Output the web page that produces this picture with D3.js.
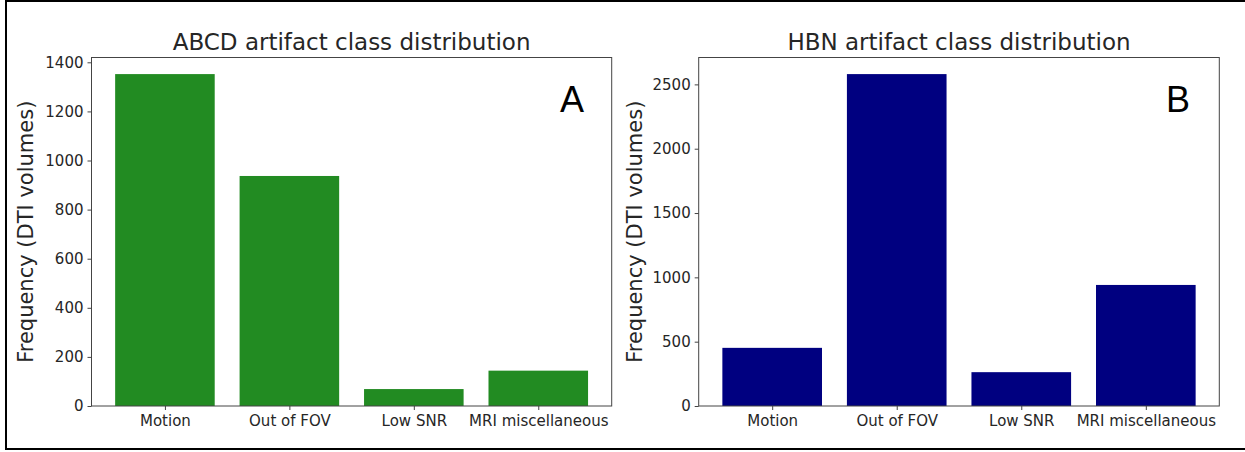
<!DOCTYPE html>
<html>
<head>
<meta charset="utf-8">
<title>Artifact class distribution</title>
<script src="https://d3js.org/d3.v7.min.js"></script>
<style>
  body { margin: 0; background: #fff; }
  svg { display: block; }
</style>
</head>
<body>
<div id="chart"></div>
<script>
// data
var classes = ["Motion", "Out of FOV", "Low SNR", "MRI miscellaneous"];
var abcdCounts = [1352, 937, 69, 144];
var hbnCounts = [452, 2580, 263, 941];
var abcdTicks = [0, 200, 400, 600, 800, 1000, 1200, 1400];
var hbnTicks = [0, 500, 1000, 1500, 2000, 2500];

var W = 1245, H = 452;
var svg = d3.select("#chart").append("svg")
  .attr("width", W).attr("height", H);

// outer frame (top, left, bottom only)
svg.append("path")
  .attr("d", "M1245,1 H6 V449 H1245")
  .attr("fill", "none").attr("stroke", "#000").attr("stroke-width", 2);

function panel(opts) {
  var left = opts.left, top = 57.5, right = opts.right, bottom = 406;
  var g = svg.append("g");

  // matplotlib-like margins: bars of width .8, 5% padding
  var x = d3.scaleLinear().domain([-0.59, classes.length - 1 + 0.59]).range([left, right]);
  var ymax = d3.max(opts.values) * 1.05;
  var y = d3.scaleLinear().domain([0, ymax]).range([bottom, top]);

  g.selectAll("rect.bar").data(opts.values).enter().append("rect")
    .attr("class", "bar")
    .attr("x", function(d, i) { return x(i - 0.4); })
    .attr("width", function() { return x(0.8) - x(0); })
    .attr("y", function(d) { return y(d); })
    .attr("height", function(d) { return bottom - y(d); })
    .attr("fill", opts.color);

  // frame
  g.append("rect")
    .attr("x", left).attr("y", top)
    .attr("width", right - left).attr("height", bottom - top)
    .attr("fill", "none").attr("stroke", "#444").attr("stroke-width", 1);

  var yAxis = g.append("g")
    .attr("transform", "translate(" + left + ",0)")
    .call(d3.axisLeft(y).tickValues(opts.ticks).tickSize(4).tickPadding(4).tickFormat(d3.format("d")));
  var xAxis = g.append("g")
    .attr("transform", "translate(0," + bottom + ")")
    .call(d3.axisBottom(x).tickValues(d3.range(classes.length)).tickSize(4).tickPadding(5)
      .tickFormat(function(i) { return classes[i]; }));

  [yAxis, xAxis].forEach(function(a) {
    a.select(".domain").remove();
    a.selectAll("line").attr("stroke", "#444");
    a.selectAll("text")
      .attr("fill", "#262626")
      .style("font-family", "DejaVu Sans")
      .style("font-size", "15px");
  });

  g.append("text")
    .attr("x", (left + right) / 2).attr("y", 49.5)
    .attr("text-anchor", "middle")
    .attr("fill", "#262626")
    .style("font-family", "DejaVu Sans").style("font-size", "23px")
    .text(opts.title);

  g.append("text")
    .attr("transform", "translate(" + opts.ylabelX + "," + ((top + bottom) / 2) + ") rotate(-90)")
    .attr("text-anchor", "middle")
    .attr("fill", "#262626")
    .style("font-family", "DejaVu Sans").style("font-size", "21px")
    .text("Frequency (DTI volumes)");

  g.append("text")
    .attr("x", opts.letterX).attr("y", 112)
    .attr("text-anchor", "middle")
    .attr("fill", "#000")
    .style("font-family", "Liberation Sans").style("font-size", "36px")
    .text(opts.letter);
}

panel({
  left: 91.5, right: 611.7, values: abcdCounts, ticks: abcdTicks,
  color: "#228B22", title: "ABCD artifact class distribution",
  ylabelX: 33, letter: "A", letterX: 572
});
panel({
  left: 698.7, right: 1219.3, values: hbnCounts, ticks: hbnTicks,
  color: "#000080", title: "HBN artifact class distribution",
  ylabelX: 642, letter: "B", letterX: 1178
});
</script>
</body>
</html>
